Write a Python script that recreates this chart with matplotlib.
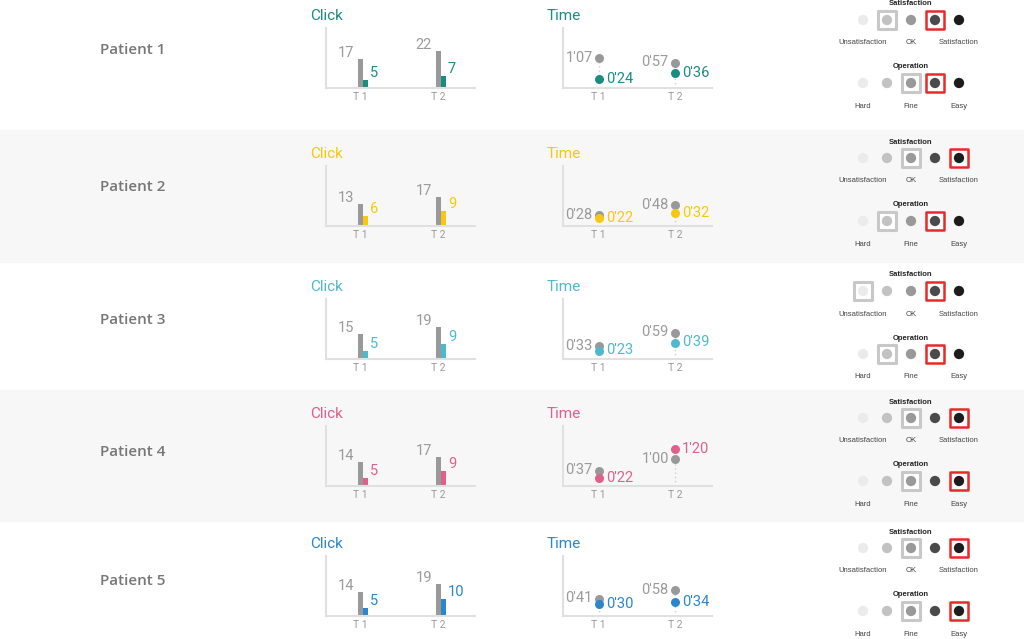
import matplotlib
matplotlib.use("Agg")
import matplotlib.pyplot as plt
from matplotlib.patches import Rectangle

W, H = 1024, 639

# ---------------- data ----------------
patients = ["Patient 1", "Patient 2", "Patient 3", "Patient 4", "Patient 5"]
accent_colors = ["#1a8c80", "#f9c80e", "#4fb8cc", "#e0608c", "#2b87c9"]
tests = ["T 1", "T 2"]
click_gray = [[17, 22], [13, 17], [15, 19], [14, 17], [14, 19]]
click_color = [[5, 7], [6, 9], [5, 9], [5, 9], [5, 10]]
time_gray_s = [[67, 57], [28, 48], [33, 59], [37, 60], [41, 58]]
time_color_s = [[24, 36], [22, 32], [23, 39], [22, 80], [30, 34]]
sat_gray = [2, 3, 1, 3, 3]
sat_red = [4, 5, 4, 5, 5]
op_gray = [3, 2, 2, 3, 3]
op_red = [4, 4, 4, 5, 5]
levels = [1, 2, 3, 4, 5]
level_colors = ["#ebebeb", "#c2c2c2", "#999999", "#4a4a4a", "#1c1c1c"]
sat_labels = {1: "Unsatisfaction", 3: "OK", 5: "Satisfaction"}
op_labels = {1: "Hard", 3: "Fine", 5: "Easy"}

# ---------------- layout ----------------
baselines = [88, 226, 359, 486, 616]
patient_y = [50, 187, 320, 452, 581]
bands = [(130, 262), (390, 521)]

fig = plt.figure(figsize=(W / 100, H / 100), dpi=100)
fig.patch.set_facecolor("white")
for y0, y1 in bands:
    fig.patches.append(Rectangle((0, 1 - y1 / H), 1, (y1 - y0) / H,
                                 transform=fig.transFigure, color="#f7f7f7", zorder=-10))


def add_ax(x0, ytop, w, h):
    ax = fig.add_axes([x0 / W, 1 - (ytop + h) / H, w / W, h / H])
    ax.patch.set_alpha(0)
    return ax


def ftext(x, y, s, **kw):
    fig.text(x / W, 1 - y / H, s, **kw)


def fmt_time(s):
    return f"{s // 60}'{s % 60:02d}"


NUM = dict(family="Roboto", fontsize=10.5)
GRAY = "#9a9a9a"
AXC = "#e0e0e0"


def style_axes(ax):
    for sp in ["top", "right"]:
        ax.spines[sp].set_visible(False)
    for sp in ["left", "bottom"]:
        ax.spines[sp].set_color(AXC)
        ax.spines[sp].set_linewidth(1.5)
    ax.tick_params(length=0, labelsize=7.5, labelcolor="#999999", pad=3)
    ax.set_yticks([])
    for lab in ax.get_xticklabels():
        lab.set_family("Roboto")


for i in range(5):
    b = baselines[i]
    col = accent_colors[i]

    ftext(100, patient_y[i], patients[i], family="Open Sans", fontweight="semibold",
          fontsize=11, color="#777777", va="center", ha="left")

    # ---- Click chart ----
    ax = add_ax(326, b - 60, 149, 60)
    xs = [0, 1]
    bw = 0.064
    ax.bar([x for x in xs], click_gray[i], width=bw, color="#999999", align="center")
    ax.bar([x + bw for x in xs], click_color[i], width=bw, color=col, align="center")
    ax.set_xlim(-0.44, 1.47)
    ax.set_ylim(0, 35.5)
    ax.set_xticks(xs)
    ax.set_xticklabels(tests)
    style_axes(ax)
    for x, g, c in zip(xs, click_gray[i], click_color[i]):
        ax.annotate(str(g), (x - bw / 2, g), xytext=(-4, 2), textcoords="offset pixels",
                    ha="right", va="baseline", color=GRAY, **NUM)
        ax.annotate(str(c), (x + 1.5 * bw, c), xytext=(2, 3), textcoords="offset pixels",
                    ha="left", va="baseline", color=col, **NUM)
    ax.text(-0.107, 1.2, "Click", transform=ax.transAxes, family="Roboto", fontsize=11,
            color=col, ha="left", va="center")

    # ---- Time chart ----
    ax = add_ax(563, b - 60, 149, 60)
    ax.set_xlim(-0.47, 1.49)
    ax.set_ylim(6, 126)
    for x, g, c in zip(xs, time_gray_s[i], time_color_s[i]):
        ax.plot([x, x], [6, max(g, c)], ls=(0, (1, 2)), color="#cfcfcf", lw=1, zorder=1)
    ax.scatter(xs, time_gray_s[i], s=42, color="#999999", zorder=3, linewidths=0)
    ax.scatter(xs, time_color_s[i], s=42, color=col, zorder=3, linewidths=0)
    for x, g, c in zip(xs, time_gray_s[i], time_color_s[i]):
        ax.annotate(fmt_time(g), (x, g), xytext=(-6, 0), textcoords="offset pixels",
                    ha="right", va="center", color=GRAY, **NUM)
        ax.annotate(fmt_time(c), (x, c), xytext=(7, 0), textcoords="offset pixels",
                    ha="left", va="center", color=col, **NUM)
    ax.set_xticks(xs)
    ax.set_xticklabels(tests)
    style_axes(ax)
    ax.text(-0.107, 1.2, "Time", transform=ax.transAxes, family="Roboto", fontsize=11,
            color=col, ha="left", va="center")

    # ---- Rating panel ----
    rx = add_ax(830, b - 92, 170, 117)
    rx.set_xlim(1 - 33 / 24, 1 + 137 / 24)
    rx.set_ylim(25, -92)
    rx.axis("off")
    for (ty, title, labels, g, r) in [(-68, "Satisfaction", sat_labels, sat_gray[i], sat_red[i]),
                                     (-5, "Operation", op_labels, op_gray[i], op_red[i])]:
        rx.text(3, ty - 16, title, family="Liberation Sans", fontweight="bold", fontsize=5.5,
                color="#222222", ha="center", va="center")
        rx.scatter([g], [ty], marker="s", s=150, facecolor="white", edgecolor="#c8c8c8",
                   linewidths=2.2, zorder=2)
        rx.scatter([r], [ty], marker="s", s=150, facecolor="white", edgecolor="#e8292b",
                   linewidths=1.8, zorder=2)
        rx.scatter(levels, [ty] * 5, s=55, c=level_colors, linewidths=0, zorder=3)
        for lv, txt in labels.items():
            rx.text(lv, ty + 23, txt, family="Liberation Sans", fontsize=5.5,
                    color="#444444", ha="center", va="center")

fig.savefig("out.png", dpi=100, facecolor="white")
